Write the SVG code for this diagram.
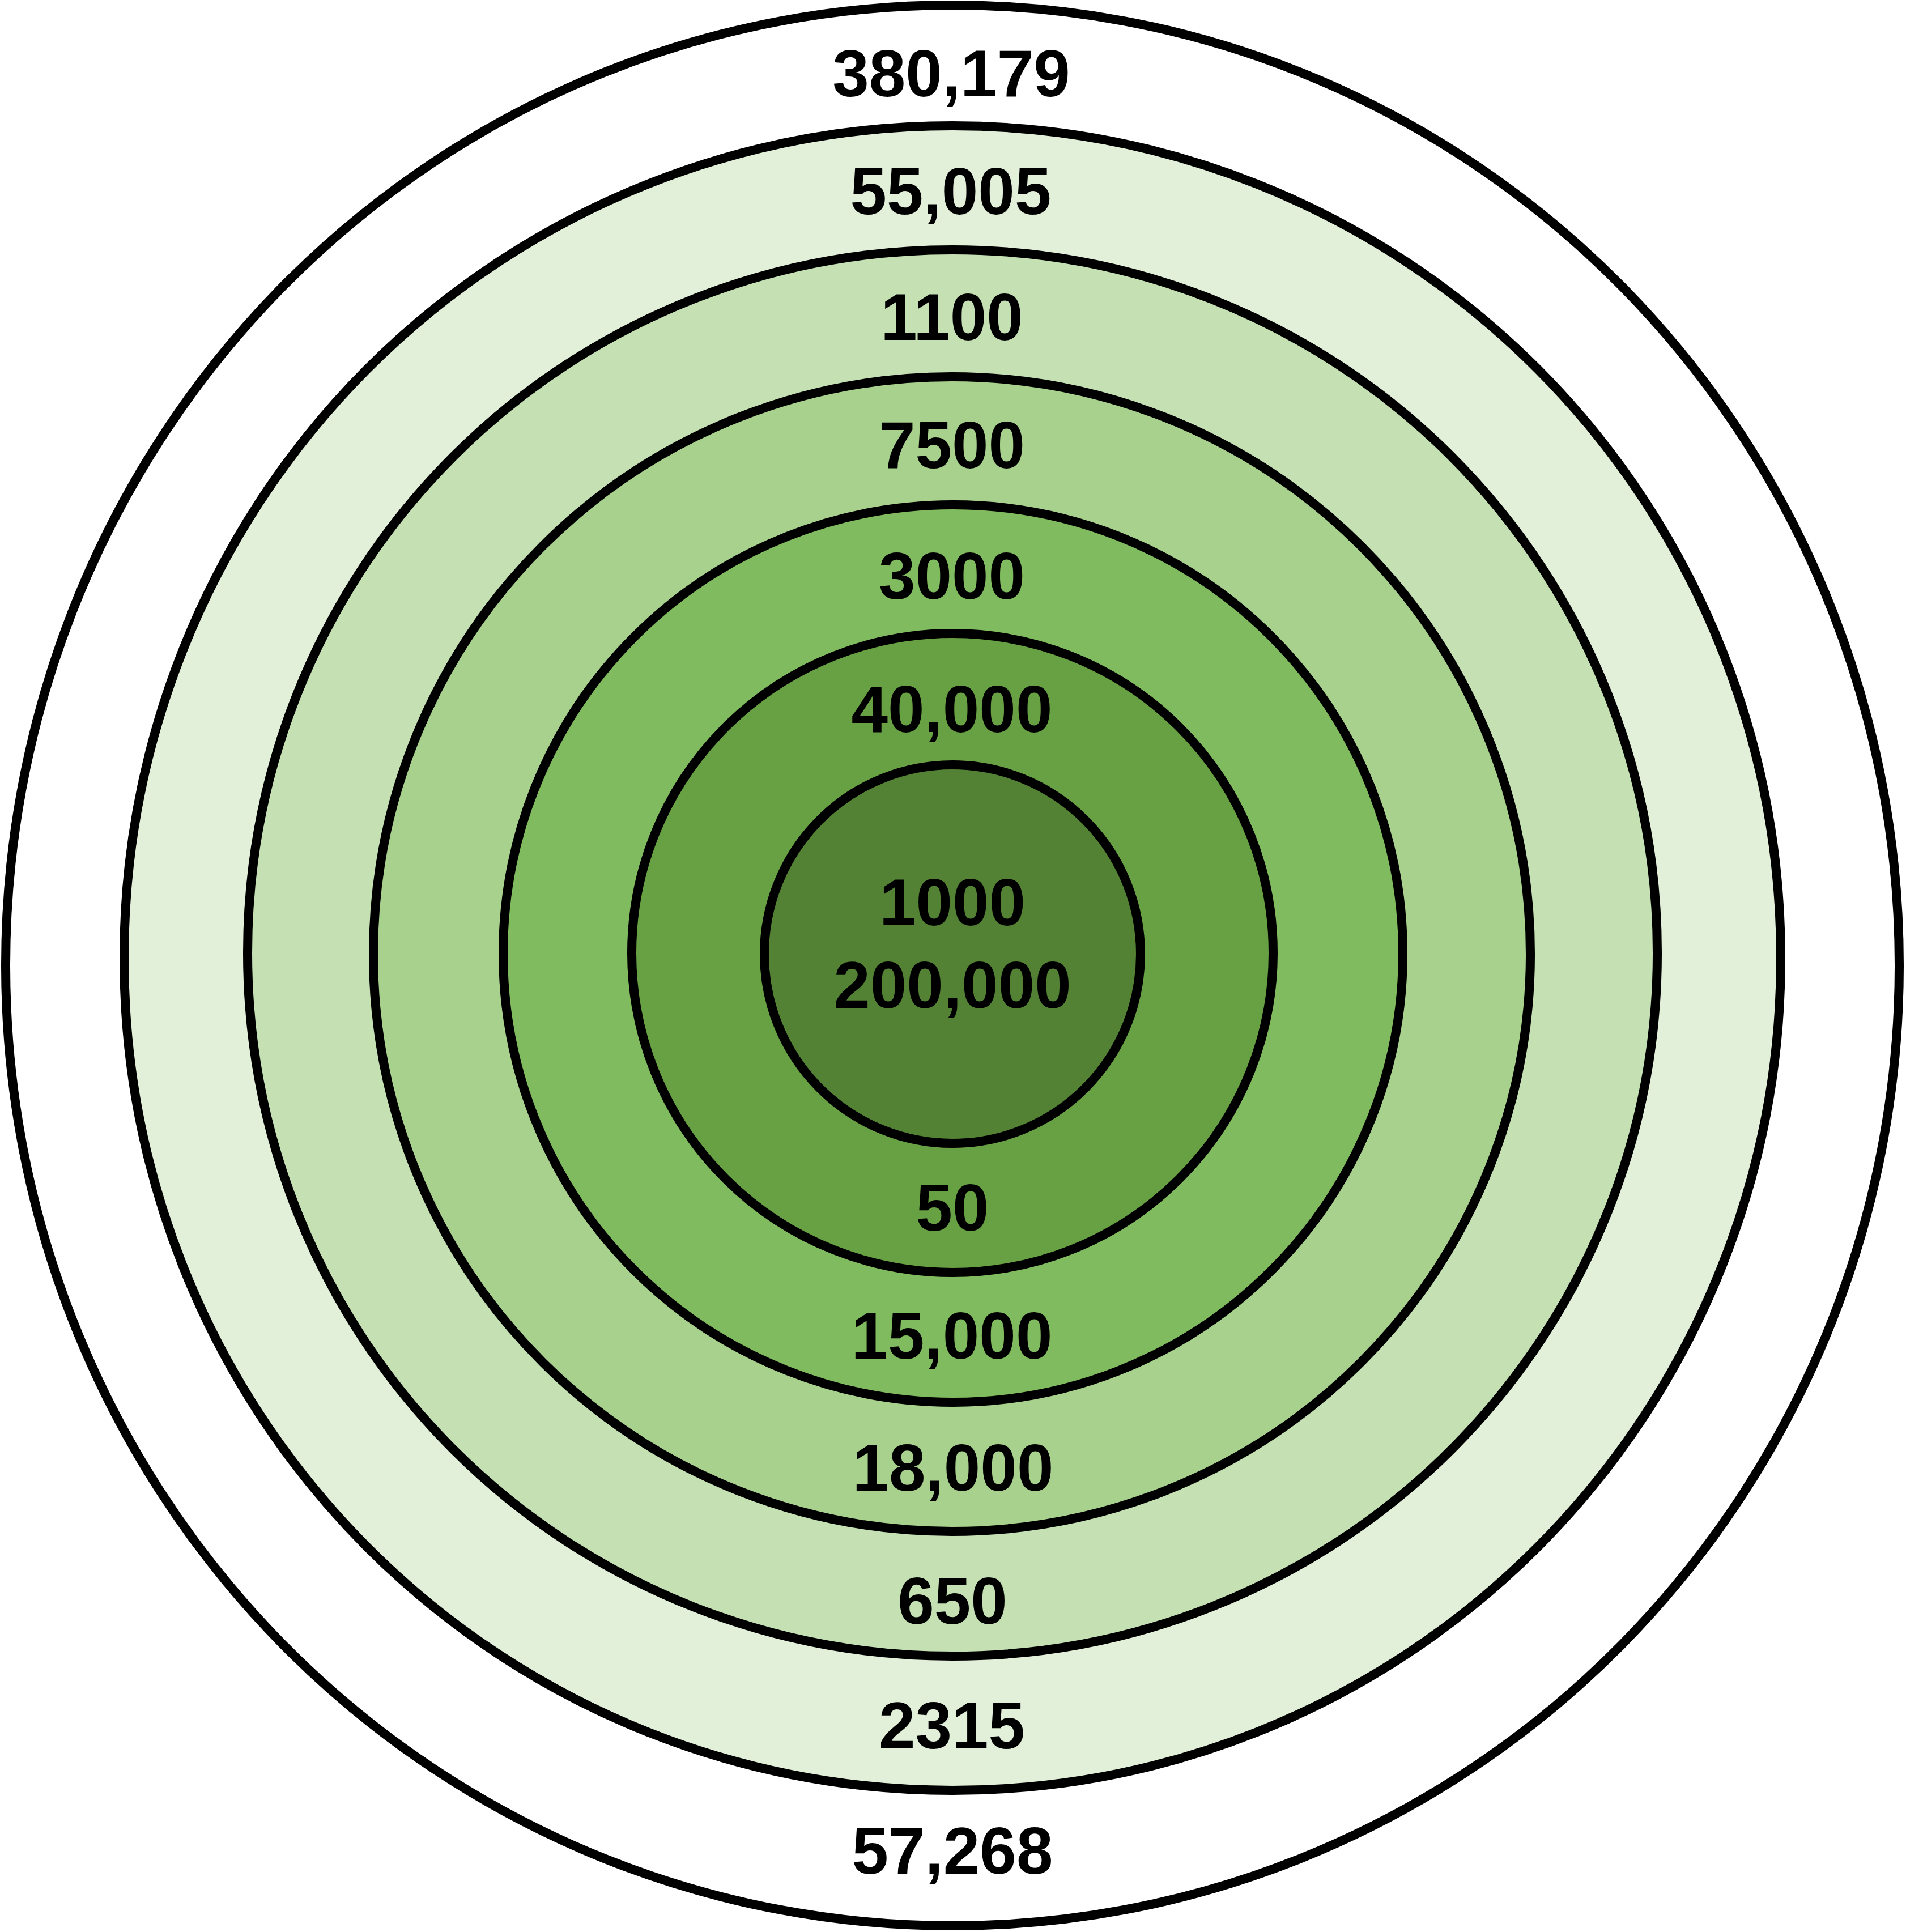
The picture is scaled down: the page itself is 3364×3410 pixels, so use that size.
<svg xmlns="http://www.w3.org/2000/svg" width="3364" height="3410" viewBox="0 0 3364 3410">
<style>
.ring{stroke:#000;stroke-width:16}
.lbl{font-family:"Liberation Sans",Arial,Helvetica,sans-serif;font-weight:bold;font-size:116px;fill:#000;text-anchor:middle}
</style>
<rect width="3364" height="3410" fill="#fff"/>
<g id="ring1"><ellipse class="ring" cx="1681" cy="1704" rx="1671" ry="1695" fill="#ffffff"/></g>
<g id="ring2"><ellipse class="ring" cx="1681" cy="1691" rx="1462" ry="1469" fill="#E2EFD9"/></g>
<g id="ring3"><ellipse class="ring" cx="1681" cy="1682" rx="1244" ry="1241" fill="#C5E1B4"/></g>
<g id="ring4"><ellipse class="ring" cx="1680" cy="1684" rx="1021" ry="1019" fill="#A9D18E"/></g>
<g id="ring5"><ellipse class="ring" cx="1682" cy="1683" rx="794" ry="792" fill="#81BB5F"/></g>
<g id="ring6"><ellipse class="ring" cx="1681" cy="1682" rx="566" ry="564" fill="#68A044"/></g>
<g id="ring7"><ellipse class="ring" cx="1681" cy="1684" rx="332" ry="334" fill="#548235"/></g>
<g id="labels">
<text class="lbl" x="1679" y="170">380,179</text>
<text class="lbl" x="1678" y="378">55,005</text>
<text class="lbl" x="1680" y="600">1100</text>
<text class="lbl" x="1680" y="826">7500</text>
<text class="lbl" x="1680" y="1057">3000</text>
<text class="lbl" x="1680" y="1292">40,000</text>
<text class="lbl" x="1681" y="1633">1000</text>
<text class="lbl" x="1681" y="1779">200,000</text>
<text class="lbl" x="1681" y="2172">50</text>
<text class="lbl" x="1680" y="2398">15,000</text>
<text class="lbl" x="1682" y="2631">18,000</text>
<text class="lbl" x="1681" y="2866">650</text>
<text class="lbl" x="1680" y="3086">2315</text>
<text class="lbl" x="1681" y="3307">57,268</text>
</g>
</svg>
